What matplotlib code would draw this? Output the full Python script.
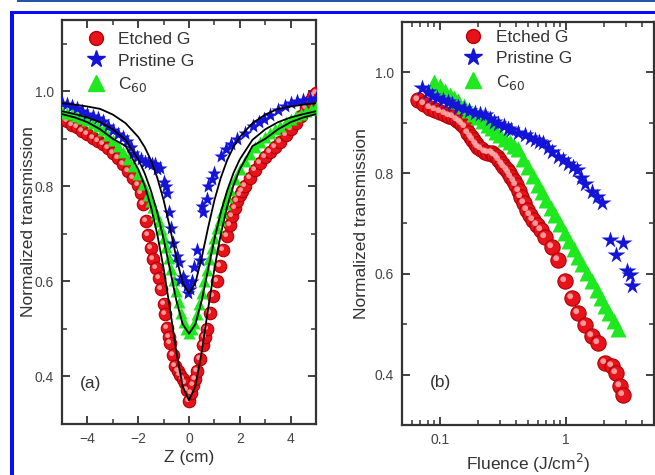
import numpy as np
import matplotlib
matplotlib.use("Agg")
import matplotlib.pyplot as plt
from matplotlib.path import Path
from matplotlib.patches import Rectangle
from matplotlib.lines import Line2D
from matplotlib.ticker import MultipleLocator, LogLocator, NullFormatter, FixedLocator, FixedFormatter

plt.rcParams['font.family'] = ['Liberation Sans', 'DejaVu Sans']

# ---- panel (a): Z-scan ----
z_etched = [-5.0, -4.8, -4.6, -4.4, -4.2, -4.0, -3.8, -3.6, -3.4, -3.2, -3.0, -2.8, -2.6, -2.4,
            -2.2, -2.0, -1.9, -1.8, -1.7, -1.6, -1.5, -1.4, -1.3, -1.2, -1.1, -1.0, -0.95, -0.88,
            -0.8, -0.75, -0.65, -0.55, -0.45, -0.35, -0.25, -0.16, -0.08, 0.0, 0.08, 0.16, 0.22,
            0.30, 0.43, 0.56, 0.64, 0.72, 0.83, 0.96, 1.09, 1.22, 1.35, 1.48, 1.6, 1.7, 1.8, 1.9,
            2.0, 2.1, 2.2, 2.4, 2.6, 2.8, 3.0, 3.2, 3.4, 3.6, 3.8, 4.0, 4.2, 4.4, 4.6, 4.75, 4.9, 5.0]
t_etched = [0.942, 0.937, 0.930, 0.924, 0.917, 0.910, 0.902, 0.896, 0.889, 0.880, 0.871, 0.859,
            0.847, 0.833, 0.818, 0.803, 0.785, 0.762, 0.728, 0.697, 0.671, 0.648, 0.628, 0.607,
            0.583, 0.553, 0.531, 0.503, 0.482, 0.470, 0.445, 0.423, 0.412, 0.404, 0.395, 0.386,
            0.372, 0.348, 0.366, 0.382, 0.395, 0.411, 0.436, 0.467, 0.484, 0.499, 0.534, 0.569,
            0.601, 0.632, 0.667, 0.695, 0.718, 0.738, 0.755, 0.769, 0.781, 0.790, 0.800, 0.818,
            0.835, 0.849, 0.861, 0.872, 0.883, 0.894, 0.908, 0.920, 0.933, 0.947, 0.965, 0.980,
            0.991, 0.996]

z_pristine = [-5.0, -4.8, -4.6, -4.4, -4.2, -4.0, -3.8, -3.6, -3.4, -3.2, -3.0, -2.8, -2.6, -2.45,
              -2.3, -2.2, -2.05, -1.9, -1.75, -1.6, -1.45, -1.35, -1.27, -1.15, -1.0, -0.9, -0.85,
              -0.78, -0.72, -0.62, -0.48, -0.40, -0.35, -0.25, -0.16, -0.08, -0.03, 0.05, 0.10,
              0.20, 0.30, 0.43, 0.50, 0.56, 0.70, 0.75, 0.90, 1.0, 1.25, 1.45, 1.65, 1.9, 2.2,
              2.5, 2.75, 2.97, 3.2, 3.5, 3.76, 4.0, 4.25, 4.5, 4.75, 5.0]
t_pristine = [0.976, 0.973, 0.970, 0.965, 0.958, 0.953, 0.948, 0.943, 0.937, 0.928, 0.919, 0.911,
              0.903, 0.895, 0.882, 0.871, 0.862, 0.857, 0.852, 0.850, 0.848, 0.846, 0.836, 0.838,
              0.810, 0.800, 0.787, 0.745, 0.712, 0.681, 0.653, 0.640, 0.604, 0.610, 0.601, 0.590,
              0.576, 0.585, 0.601, 0.630, 0.667, 0.646, 0.759, 0.745, 0.773, 0.800, 0.815, 0.829,
              0.864, 0.878, 0.890, 0.900, 0.913, 0.926, 0.935, 0.941, 0.950, 0.960, 0.969, 0.975,
              0.979, 0.982, 0.984, 0.985]

z_c60 = [-5.0, -4.8, -4.6, -4.4, -4.2, -4.0, -3.8, -3.6, -3.4, -3.2, -3.0, -2.8, -2.6, -2.4, -2.2,
         -2.0, -1.8, -1.6, -1.5, -1.4, -1.3, -1.2, -1.1, -1.0, -0.9, -0.8, -0.7, -0.6, -0.5, -0.4,
         -0.3, -0.2, -0.1, 0.0, 0.1, 0.2, 0.3, 0.4, 0.5, 0.6, 0.7, 0.8, 0.9, 1.0, 1.1, 1.2, 1.3,
         1.4, 1.5, 1.6, 1.8, 2.0, 2.2, 2.4, 2.6, 2.8, 3.0, 3.2, 3.4, 3.6, 3.8, 4.0, 4.2, 4.4, 4.6,
         4.8, 5.0]
t_c60 = [0.958, 0.955, 0.952, 0.948, 0.944, 0.940, 0.934, 0.927, 0.918, 0.908, 0.897, 0.885,
         0.872, 0.857, 0.842, 0.825, 0.805, 0.782, 0.770, 0.757, 0.742, 0.727, 0.710, 0.692,
         0.672, 0.650, 0.627, 0.604, 0.580, 0.556, 0.534, 0.515, 0.500, 0.492, 0.500, 0.512,
         0.531, 0.553, 0.576, 0.600, 0.624, 0.648, 0.671, 0.692, 0.712, 0.730, 0.747, 0.763,
         0.778, 0.792, 0.815, 0.836, 0.853, 0.868, 0.882, 0.893, 0.903, 0.912, 0.920, 0.928,
         0.935, 0.941, 0.947, 0.953, 0.958, 0.963, 0.967]

# fitted curves
z_fit = [-5.0, -4.5, -4.0, -3.5, -3.0, -2.5, -2.0, -1.75, -1.5, -1.25, -1.0, -0.75, -0.5, -0.25,
         0.0, 0.25, 0.5, 0.75, 1.0, 1.25, 1.5, 1.75, 2.0, 2.5, 3.0, 3.5, 4.0, 4.5, 5.0]
fit_etched = [0.952, 0.945, 0.935, 0.920, 0.900, 0.885, 0.836, 0.802, 0.757, 0.699, 0.627, 0.542,
              0.452, 0.379, 0.350, 0.379, 0.452, 0.542, 0.627, 0.699, 0.757, 0.802, 0.836, 0.885,
              0.900, 0.920, 0.935, 0.945, 0.952]
fit_c60 = [0.958, 0.952, 0.945, 0.935, 0.920, 0.898, 0.857, 0.828, 0.791, 0.745, 0.689, 0.625,
           0.560, 0.510, 0.490, 0.510, 0.560, 0.625, 0.689, 0.745, 0.791, 0.828, 0.857, 0.898,
           0.920, 0.935, 0.945, 0.952, 0.958]
fit_pristine = [0.975, 0.972, 0.968, 0.963, 0.951, 0.933, 0.904, 0.883, 0.855, 0.818, 0.771,
                0.713, 0.650, 0.597, 0.575, 0.597, 0.650, 0.713, 0.771, 0.818, 0.855, 0.883,
                0.904, 0.933, 0.951, 0.963, 0.968, 0.972, 0.975]

# ---- panel (b): fluence dependence ----
f_etched = [0.067, 0.075, 0.083, 0.091, 0.10, 0.110, 0.119, 0.128, 0.136, 0.144, 0.151, 0.158,
            0.168, 0.176, 0.184, 0.192, 0.20, 0.213, 0.227, 0.242, 0.257, 0.27, 0.282, 0.295,
            0.309, 0.323, 0.338, 0.353, 0.37, 0.387, 0.405, 0.424, 0.444, 0.465, 0.487, 0.52,
            0.55, 0.59, 0.64, 0.68, 0.77, 0.87, 0.98, 1.11, 1.25, 1.42, 1.6, 1.8, 2.04, 2.31,
            2.52, 2.68, 2.85]
tb_etched = [0.945, 0.938, 0.930, 0.925, 0.921, 0.918, 0.914, 0.911, 0.906, 0.902, 0.897, 0.892,
             0.879, 0.872, 0.865, 0.858, 0.852, 0.847, 0.842, 0.840, 0.839, 0.836, 0.832, 0.826,
             0.819, 0.812, 0.806, 0.800, 0.793, 0.785, 0.776, 0.765, 0.753, 0.740, 0.727, 0.717,
             0.707, 0.697, 0.687, 0.674, 0.654, 0.628, 0.585, 0.552, 0.522, 0.499, 0.476, 0.463,
             0.423, 0.417, 0.403, 0.377, 0.360]

f_pristine = [0.0716, 0.08, 0.086, 0.095, 0.105, 0.115, 0.125, 0.14, 0.155, 0.17, 0.19, 0.21,
              0.227, 0.25, 0.27, 0.29, 0.32, 0.35, 0.37, 0.42, 0.47, 0.52, 0.567, 0.61, 0.66,
              0.72, 0.77, 0.87, 0.95, 1.04, 1.13, 1.22, 1.32, 1.42, 1.6, 1.75, 1.92, 2.23, 2.52,
              2.85, 3.03, 3.2, 3.33]
tb_pristine = [0.968, 0.962, 0.954, 0.950, 0.946, 0.941, 0.937, 0.932, 0.928, 0.924, 0.920,
               0.917, 0.915, 0.907, 0.902, 0.898, 0.893, 0.888, 0.885, 0.879, 0.875, 0.870,
               0.865, 0.862, 0.859, 0.850, 0.842, 0.832, 0.826, 0.819, 0.812, 0.806, 0.790,
               0.779, 0.763, 0.752, 0.740, 0.667, 0.638, 0.661, 0.605, 0.598, 0.575]

f_c60 = [0.09, 0.1, 0.11, 0.12, 0.13, 0.14, 0.155, 0.17, 0.185, 0.2, 0.22, 0.24, 0.26, 0.28, 0.3,
         0.33, 0.36, 0.39, 0.42, 0.46, 0.5, 0.55, 0.6, 0.65, 0.7, 0.76, 0.82, 0.9, 0.98, 1.06,
         1.15, 1.25, 1.35, 1.47, 1.6, 1.75, 1.9, 2.05, 2.2, 2.4, 2.6]
tb_c60 = [0.981, 0.972, 0.964, 0.956, 0.949, 0.943, 0.934, 0.926, 0.918, 0.912, 0.903, 0.896,
          0.889, 0.882, 0.876, 0.868, 0.861, 0.854, 0.847, 0.829, 0.813, 0.794, 0.777, 0.762,
          0.747, 0.731, 0.716, 0.698, 0.681, 0.666, 0.650, 0.634, 0.619, 0.602, 0.586, 0.568,
          0.552, 0.537, 0.523, 0.506, 0.491]

legend_labels = ['Etched G', 'Pristine G', 'C$_{60}$']

RED = '#e8121a'
BLUE = '#1414d8'
GREEN = '#1ee81e'
DARK = '#333333'

# small off-centre highlight marker to fake the shaded spheres
hl = Path.circle(center=(-0.3, 0.3), radius=0.38)
hl_marker = Path(np.vstack([[[1.0, 1.0], [-1.0, -1.0]], hl.vertices]),
                 np.concatenate([[Path.MOVETO, Path.MOVETO], hl.codes]))


def spheres(ax, x, y, ms):
    ax.plot(x, y, 'o', ms=ms, mfc=RED, mec='#b00008', mew=0.8, zorder=3)
    ax.plot(x, y, ls='none', marker=hl_marker, ms=ms, mfc='#ffb0b0', mec='none',
            alpha=0.85, zorder=3.1)


def style(ax):
    for s in ax.spines.values():
        s.set_color(DARK)
        s.set_linewidth(1.6)
    ax.tick_params(which='both', direction='in', top=True, right=True, colors=DARK,
                   labelsize=10, labelcolor='#444444', pad=6)
    ax.tick_params(which='major', length=6, width=1.3)
    ax.tick_params(which='minor', length=3.5, width=1.1)
    ax.yaxis.set_major_locator(MultipleLocator(0.2))
    ax.yaxis.set_minor_locator(MultipleLocator(0.1))
    ax.yaxis.set_major_formatter(plt.FuncFormatter(lambda v, p: f'{v:.1f}'))


fig = plt.figure(figsize=(6.55, 4.75), dpi=100)
fig.patch.set_facecolor('white')

# page decorations (journal frame)
fig.patches.append(Rectangle((0.026, 0.995), 0.974, 0.005, transform=fig.transFigure,
                             color='#2456a8', lw=0))
fig.patches.append(Rectangle((0.0153, 0.9695), 0.9847, 0.0074, transform=fig.transFigure,
                             color='#0a0aff', lw=0))
fig.patches.append(Rectangle((0.0153, 0.0), 0.0061, 0.977, transform=fig.transFigure,
                             color='#0a0aff', lw=0))

ax1 = fig.add_axes([0.0947, 0.1074, 0.3878, 0.8505])
ax2 = fig.add_axes([0.6137, 0.1053, 0.3847, 0.8484])

# panel (a)
spheres(ax1, z_etched, t_etched, 9)
ax1.plot(z_c60, t_c60, '^', ms=9, color=GREEN, mec='none', zorder=3.3)
ax1.plot(z_pristine, t_pristine, '*', ms=11, color=BLUE, mec='none', zorder=3.5)
for fit in (fit_etched, fit_c60, fit_pristine):
    ax1.plot(z_fit, fit, '-', color='black', lw=1.3, zorder=4)
ax1.set_xlim(-5, 5)
ax1.set_ylim(0.30, 1.15)
style(ax1)
ax1.xaxis.set_major_locator(MultipleLocator(2))
ax1.xaxis.set_minor_locator(MultipleLocator(1))
ax1.set_xlabel('Z (cm)', fontsize=12.5, color=DARK, labelpad=3)
ax1.set_ylabel('Normalized transmission', fontsize=12.5, color=DARK, labelpad=-1)
ax1.text(-4.3, 0.375, '(a)', fontsize=12.5, color=DARK)

# panel (b)
spheres(ax2, f_etched, tb_etched, 11)
ax2.plot(f_pristine, tb_pristine, '*', ms=13, color=BLUE, mec='none', zorder=3.5)
ax2.plot(f_c60, tb_c60, '^', ms=11, color=GREEN, mec='none', zorder=3.3)
ax2.set_xscale('log')
ax2.set_xlim(0.05, 5)
ax2.set_ylim(0.30, 1.10)
style(ax2)
ax2.xaxis.set_major_locator(FixedLocator([0.1, 1]))
ax2.xaxis.set_major_formatter(FixedFormatter(['0.1', '1']))
ax2.xaxis.set_minor_locator(LogLocator(base=10, subs=np.arange(2, 10)))
ax2.xaxis.set_minor_formatter(NullFormatter())
ax2.set_xlabel('Fluence (J/cm$^2$)', fontsize=12.5, color=DARK, labelpad=3)
ax2.set_ylabel('Normalized transmission', fontsize=12.5, color=DARK, labelpad=4)
ax2.text(0.083, 0.375, '(b)', fontsize=12.5, color=DARK)

# legends
handles = [Line2D([], [], ls='none', marker='o', ms=10, mfc=RED, mec='#b00008'),
           Line2D([], [], ls='none', marker='*', ms=13, color=BLUE),
           Line2D([], [], ls='none', marker='^', ms=11, color=GREEN)]
ax1.legend(handles, legend_labels, loc='upper left', bbox_to_anchor=(0.05, 1.0), frameon=False,
           fontsize=12.5, handletextpad=0.8, labelspacing=0.35, handlelength=1.0,
           labelcolor=DARK, borderaxespad=0.3)
ax2.legend(handles, legend_labels, loc='upper left', bbox_to_anchor=(0.2, 1.01), frameon=False,
           fontsize=12.5, handletextpad=0.8, labelspacing=0.35, handlelength=1.0,
           labelcolor=DARK, borderaxespad=0.3)

fig.savefig('out.png', dpi=100)
